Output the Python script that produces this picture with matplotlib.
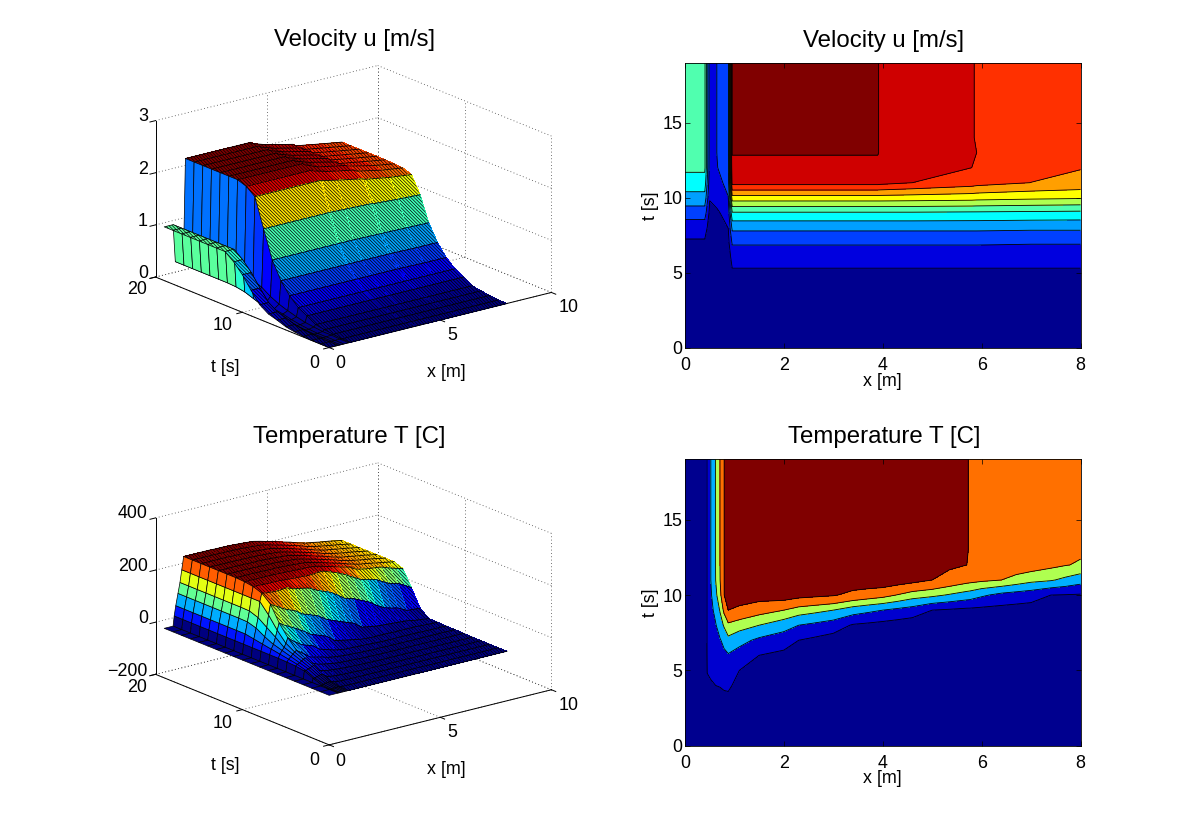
import numpy as np
import matplotlib
matplotlib.use("Agg")
import matplotlib.pyplot as plt

plt.rcParams["font.family"] = ["Liberation Sans", "DejaVu Sans"]
plt.rcParams["hatch.linewidth"] = 0.5
plt.rcParams["hatch.color"] = "black"

W, H = 1200, 839
TICK_SIZE = 12.9
TITLE_SIZE = 17.3
T_GRID = list(range(20))

# velocity table, one list per x position, values for t = 0..19
U_X = [0, 0.4, 0.5, 0.65, 0.875, 0.955, 3.9, 3.95, 4.6, 5.8, 5.9, 7, 8]
U_COLS = [
    [0, 0, 0, .01, .03, .06, .12, .17, .28, .49, .72, .90, 1.03] + [1.03] * 7,
    [0, 0, 0, .01, .03, .06, .12, .17, .28, .49, .72, .90, 1.03] + [1.03] * 7,
    [0, 0, 0, 0, .01, .03, .06, .09, .11, .15, .21, .27, .30] + [.31] * 7,
    [0, 0, 0, 0, .01, .03, .06, .10, .13, .17, .27, .34, .39] + [.40] * 7,
    [0, 0, .01, .01, .03, .05, .09, .14, .20, .28, .39, .45, .50] + [.53] * 7,
    [0, 0, .02, .04, .07, .17, .26, .42, .64, .97, 1.50, 2.05, 2.18] + [2.24] * 7,
    [0, 0, .02, .04, .07, .17, .26, .42, .64, .97, 1.50, 2.05, 2.18] + [2.24] * 7,
    [0, 0, .02, .04, .07, .17, .26, .42, .64, .97, 1.50, 2.04, 2.16] + [2.21] * 7,
    [0, 0, .02, .04, .07, .17, .26, .42, .64, .97, 1.49, 1.98, 2.08, 2.10] + [2.12] * 6,
    [0, 0, .02, .04, .07, .17, .26, .42, .64, .96, 1.47, 1.88, 1.98] + [2.00] * 7,
    [0, 0, .02, .04, .07, .17, .26, .42, .64, .96, 1.46, 1.86, 1.95, 1.98] + [1.96] * 6,
    [0, 0, .02, .04, .07, .17, .26, .41, .63, .95, 1.43, 1.78, 1.85, 1.87] + [1.88] * 6,
    [0, 0, .02, .04, .07, .17, .26, .41, .63, .94, 1.41, 1.73, 1.79, 1.80] + [1.81] * 6,
]
U_LEVELS = [.198, .396, .594, .792, .99, 1.188, 1.386, 1.584, 1.782, 1.98, 2.23]
U_FILLS = ["#00008F", "#0000DF", "#0040FF", "#009FFF", "#00FFFF", "#50FFAF",
           "#AFFF50", "#FFFF00", "#FF9F00", "#FF3000", "#CF0000", "#800000"]

# temperature table, same layout
T_X = [0, 0.4, 0.45, 0.52, 0.62, 0.71, 0.79, 0.875, 1.1, 1.5, 2, 2.3, 2.6, 3, 3.4, 3.7, 4,
       4.3, 4.6, 5, 5.35, 5.7, 5.76, 6, 6.4, 6.7, 7, 7.4, 7.7, 8]
T_COLS = [
    [-10] * 20,
    [-10] * 20,
    [-10, -10, -8, 5, 20, 25, 27] + [28] * 13,
    [-10, -10, -6, 5, 20, 30, 36, 42, 48, 54, 60, 66] + [66] * 8,
    [-10, -9, -4, 8, 24, 34, 44, 54, 64, 80, 100, 110] + [111] * 8,
    [-10, -9, -3, 10, 26, 39, 52, 64, 90, 114, 138, 150] + [151] * 8,
    [-10, -8, -2, 12, 30, 44, 58, 78, 115, 160, 198, 198] + [198] * 8,
    [-10, -9, -3, 12, 32, 47, 63, 98, 141, 199, 228, 240, 245] + [247] * 7,
    [-10, -10, -8, -2, 8, 24, 49, 81, 128, 188, 225, 240, 245] + [247] * 7,
    [-10, -10, -9, -6, 0, 10, 24, 58, 110, 168, 222, 238, 245] + [247] * 7,
    [-10, -10, -10, -8, -4, 2, 14, 43, 85, 150, 225, 238, 245] + [247] * 7,
    [-10, -10, -10, -9, -6, -2, 6, 24, 67, 132, 215, 236, 244] + [246] * 7,
    [-10, -10, -10, -10, -7, -4, 2, 16, 58, 123, 210, 234, 243] + [246] * 7,
    [-10, -10, -10, -10, -8, -5, -2, 6, 45, 110, 203, 232, 242] + [245] * 7,
    [-10, -10, -10, -10, -9, -7, -4, 0, 20, 88, 185, 230, 240] + [243] * 7,
    [-10, -10, -10, -10, -10, -8, -5, -1, 15, 77, 175, 232, 240] + [241] * 7,
    [-10, -10, -10, -10, -10, -8, -6, -2, 10, 67, 165, 233, 238] + [239] * 7,
    [-10, -10, -10, -10, -10, -9, -7, -3, 5, 57, 148, 224, 232] + [233] * 7,
    [-10, -10, -10, -10, -10, -9, -7, -4, 0, 48, 130, 215, 225] + [226] * 7,
    [-10, -10, -10, -10, -10, -9, -8, -6, -2, 24, 120, 199, 215] + [217] * 7,
    [-10, -10, -10, -10, -10, -9, -8, -6, -2, 19, 106, 182, 207] + [208] * 7,
    [-10, -10, -10, -10, -10, -9, -8, -6, -2, 14, 92, 166, 199] + [200] * 7,
    [-10, -10, -10, -10, -10, -9, -8, -6, -2, 14, 90, 164, 192] + [198] * 7,
    [-10, -10, -10, -10, -10, -9, -8, -6, -3, 12, 74, 158, 185] + [191] * 7,
    [-10, -10, -10, -10, -10, -9, -8, -6, -3, 10, 55, 150, 178] + [182] * 7,
    [-10, -10, -10, -10, -10, -9, -8, -6, -3, 8, 48, 136, 175] + [178] * 7,
    [-10, -10, -10, -10, -10, -9, -8, -7, -3, 6, 42, 122, 172] + [173] * 7,
    [-10, -10, -10, -10, -10, -9, -8, -7, -5, 0, 24, 114, 160, 167] + [168] * 6,
    [-10, -10, -10, -10, -10, -9, -8, -7, -6, -3, 22, 100, 152, 162] + [163] * 6,
    [-10, -10, -10, -10, -10, -9, -8, -8, -7, -6, 20, 85, 145, 158] + [158] * 6,
]
T_LEVELS = [24, 67, 110, 150, 199]
T_FILLS = ["#00008F", "#0000CF", "#00AFFF", "#AFFF50", "#FF7000", "#800000"]

X_TICKS = [0, 5, 10]
TIME_TICKS = [0, 10, 20]
U_Z_TICKS = [0, 1, 2, 3]
T_Z_TICKS = [-200, 0, 200, 400]

fig = plt.figure(figsize=(W / 100, H / 100), dpi=100, facecolor="white")


def px_text(x, y, s, size=TICK_SIZE, **kw):
    kw.setdefault("ha", "center")
    fig.text(x / W, 1 - (y + 1) / H, s, fontsize=size, va="center", **kw)


def box_grid(ax, zticks):
    zlo, zhi = zticks[0], zticks[-1]
    dot = dict(color="#444444", lw=0.6, ls=(0, (1, 3)), zorder=1)
    ink = dict(color="black", lw=0.7, zorder=1)
    # back walls and floor
    for z in zticks:
        ax.plot([0, 10], [20, 20], [z, z], **dot)
        ax.plot([10, 10], [0, 20], [z, z], **dot)
    for x in X_TICKS:
        ax.plot([x, x], [20, 20], [zlo, zhi], **dot)
        ax.plot([x, x], [0, 20], [zlo, zlo], **dot)
    for t in TIME_TICKS:
        ax.plot([10, 10], [t, t], [zlo, zhi], **dot)
        ax.plot([0, 10], [t, t], [zlo, zlo], **dot)
    # solid axes and tick marks
    ax.plot([0, 0], [20, 20], [zlo, zhi], **ink)
    ax.plot([0, 0], [0, 20], [zlo, zlo], **ink)
    ax.plot([0, 10], [0, 0], [zlo, zlo], **ink)
    for z in zticks:
        ax.plot([-0.25, 0], [20, 20], [z, z], **ink)
    for t in TIME_TICKS:
        ax.plot([-0.25, 0], [t, t], [zlo, zlo], **ink)
    for x in X_TICKS:
        ax.plot([x, x], [-0.5, 0], [zlo, zlo], **ink)


def surface(ax, xs, table, plateau, wall, strip_hatched):
    zs = np.array(table, dtype=float).T
    xs = np.array(xs, dtype=float)
    xg, tg = np.meshgrid(xs, T_GRID)
    cols = plt.cm.jet((zs - zs.min()) / (zs.max() - zs.min()))
    n = len(xs)
    hatch = "\\" * 10

    # the viewer sits at low x, so the far plateau goes first.
    # its many thin mesh lines show up as fine hatching
    ax.plot_surface(xg[:, plateau:], tg[:, plateau:], zs[:, plateau:],
                    facecolors=cols[:, plateau:], rstride=1, cstride=1, shade=False,
                    edgecolor="black", linewidth=0, antialiased=False, hatch=hatch, zorder=2)
    for k in range(len(T_GRID)):
        ax.plot(xs[plateau:], [T_GRID[k]] * (n - plateau), zs[k, plateau:],
                color="black", lw=0.6, zorder=2.5)

    # faceted part in the middle
    ax.plot_surface(xg[:, wall:plateau + 1], tg[:, wall:plateau + 1], zs[:, wall:plateau + 1],
                    facecolors=cols[:, wall:plateau + 1], rstride=1, cstride=1, shade=False,
                    edgecolor="black", linewidth=0.5, zorder=3)

    kw = {"hatch": hatch} if strip_hatched else {}
    ax.plot_surface(xg[:, :wall + 1], tg[:, :wall + 1], zs[:, :wall + 1],
                    facecolors=cols[:, :wall + 1], rstride=1, cstride=1, shade=False,
                    edgecolor="black", linewidth=0.5, zorder=4, **kw)


def panel_3d(shift, xs, table, zticks, title, title_x, plateau, wall, strip_hatched):
    side = 419
    left = 138.3
    bottom = H - 421.7 - shift
    ax = fig.add_axes([left / W, bottom / H, side / W, side / H], projection="3d")
    ax.computed_zorder = False
    ax.set_proj_type("ortho")
    ax.view_init(elev=18.5, azim=-128)
    ax.set_box_aspect((283, 283, 165.5))
    ax.set_xlim(0, 10)
    ax.set_ylim(0, 20)
    ax.set_zlim(zticks[0], zticks[-1])
    ax.set_axis_off()
    ax.patch.set_alpha(0)
    box_grid(ax, zticks)
    surface(ax, xs, table, plateau, wall, strip_hatched)

    y_low = 273 + shift
    y_high = 115.5 + shift
    for i, z in enumerate(zticks):
        lab = str(z).replace("-", "\u2212")
        y = y_low - (y_low - y_high) * i / (len(zticks) - 1)
        px_text(148, y, lab, ha="right")
    for t, x, y in zip(TIME_TICKS, [314, 223, 137], [362, 325, 289]):
        px_text(x, y + shift, str(t))
    for v, x, y in zip(X_TICKS, [340, 452, 569], [363, 334, 307]):
        px_text(x, y + shift, str(v))
    px_text(225.7, 367 + shift, "t [s]")
    px_text(446.7, 371.5 + shift, "x [m]")
    px_text(title_x, 39 + shift - 0.3, title, size=TITLE_SIZE)


def panel_2d(top, bottom, xs, table, levels, fills, title):
    ax = fig.add_axes([685 / W, 1 - bottom / H, 395.5 / W, (bottom - top) / H])
    zs = np.array(table, dtype=float).T
    bounds = [zs.min() - 1] + levels + [zs.max() + 1]
    ax.contourf(xs, T_GRID, zs, levels=bounds, colors=fills)
    ax.contour(xs, T_GRID, zs, levels=levels, colors="black", linewidths=0.6)
    ax.set_xlim(0, 8)
    ax.set_ylim(0, 19)
    ax.set_xticks([0, 2, 4, 6, 8])
    ax.set_yticks([0, 5, 10, 15])
    ax.tick_params(direction="in", top=True, right=True, length=3.5, width=0.5,
                   labelsize=TICK_SIZE, pad=2)
    ax.tick_params(axis="x", pad=6.5)
    for s in ax.spines.values():
        s.set_linewidth(0.6)
    ax.set_xlabel("x [m]", fontsize=TICK_SIZE, labelpad=-1)
    ax.set_ylabel("t [s]", fontsize=TICK_SIZE, labelpad=2)
    px_text(884, top - 23, title, size=TITLE_SIZE)


panel_3d(0, U_X, U_COLS, U_Z_TICKS, "Velocity u [m/s]", 355, 5, 1, True)
panel_2d(62.5, 348, U_X, U_COLS, U_LEVELS, U_FILLS, "Velocity u [m/s]")
panel_3d(397.3, T_X, T_COLS, T_Z_TICKS, "Temperature T [C]", 349, 7, 1, False)
panel_2d(459.5, 745.7, T_X, T_COLS, T_LEVELS, T_FILLS, "Temperature T [C]")

fig.savefig("out.png", dpi=100)
